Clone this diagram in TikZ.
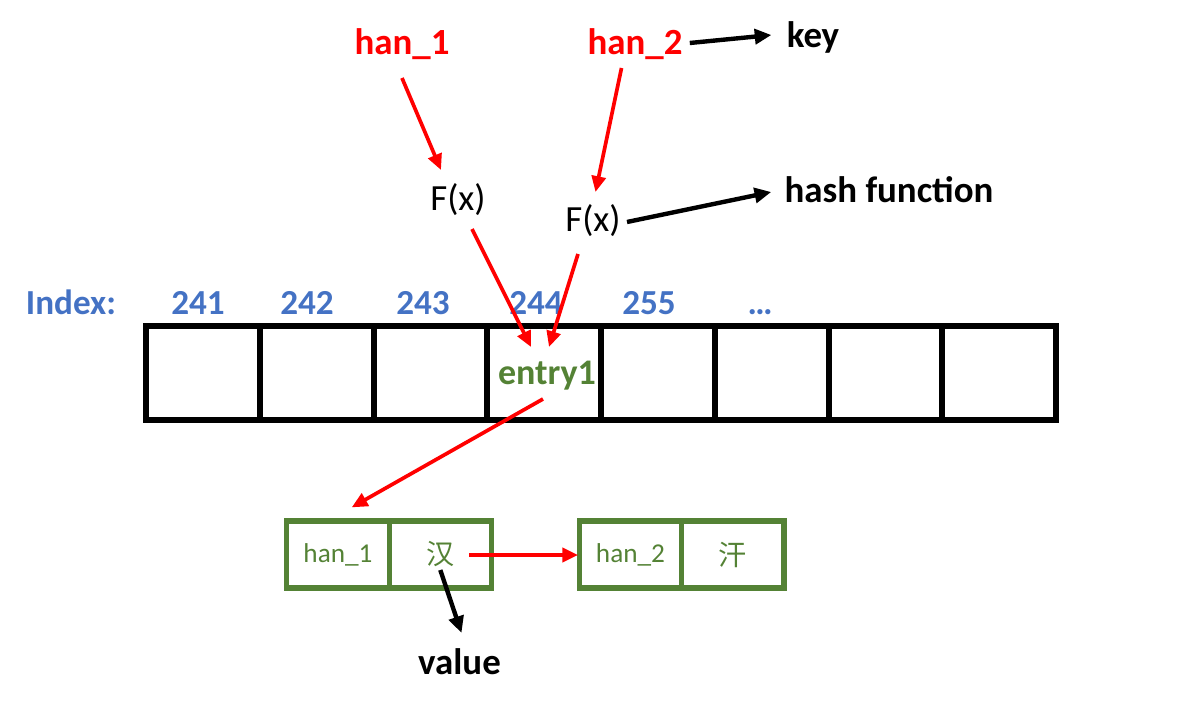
\documentclass[tikz,border=0pt]{standalone}
\usepackage{fontspec}
\setmainfont{Carlito}
\newfontfamily\cjkfont{Noto Sans CJK SC}
\usetikzlibrary{arrows.meta}
\definecolor{hanred}{RGB}{255,0,0}
\definecolor{idxblue}{RGB}{68,114,196}
\definecolor{entrygreen}{RGB}{84,130,53}

\begin{document}
\begin{tikzpicture}[x=0.02cm, y=-0.02cm,
	bigtext/.style={inner sep=0pt, anchor=base, font=\fontsize{21}{25}\selectfont\bfseries},
	fxtext/.style={inner sep=0pt, anchor=base, font=\fontsize{21}{25}\selectfont},
	idxtext/.style={inner sep=0pt, anchor=base, text=idxblue, font=\fontsize{20}{24}\selectfont\bfseries},
	cell/.style={draw=black, line width=3.4pt, minimum width=2.275cm, minimum height=1.88cm, inner sep=0pt},
	pair/.style={draw=entrygreen, line width=3pt, minimum width=2.046cm, minimum height=1.34cm, inner sep=0pt, text=entrygreen, font=\fontsize{15.5}{18}\selectfont},
	hanzi/.style={pair, font=\cjkfont\fontsize{16}{19}\selectfont},
	redarrow/.style={hanred, line width=2.1pt, -{Triangle[length=9pt, width=8pt]}},
	blackarrow/.style={black, line width=2.5pt, -{Triangle[length=9.5pt, width=8.5pt]}}]
	\useasboundingbox (0,0) rectangle (1200,709);
	% keys and hash functions
	\node[bigtext, text=hanred] (h1) at (402,55) {han\_1};
	\node[bigtext, text=hanred] (h2) at (635,55) {han\_2};
	\node[bigtext] (key) at (813,48) {key};
	\node[fxtext] (f1) at (458,211) {F(x)};
	\node[fxtext] (f2) at (593,232) {F(x)};
	\node[bigtext] (hash) at (889,203) {hash function};
	% index row
	\node[idxtext] (idx) at (71,315) {Index:};
	\foreach \lbl/\xx [count=\i] in {241/198, 242/307, 243/423, 244/536, 255/649, …/760}
		\node[idxtext] (l\i) at (\xx,315) {\lbl};
	% table
	\foreach \i in {1,...,8}
		\node[cell] (c\i) at (89.125+113.75*\i, 373) {};
	\node[inner sep=0pt, anchor=base, text=entrygreen, font=\fontsize{20.5}{24}\selectfont\bfseries] (entry) at (547,385) {entry1};
	% linked entries
	\node[pair] (k1) at (338,554.5) {han\_1};
	\node[hanzi] (v1) at (440.3,554.5) {汉};
	\node[pair] (k2) at (630.5,554.5) {han\_2};
	\node[hanzi] (v2) at (732.8,554.5) {汗};
	\node[bigtext] (value) at (459.5,674) {value};
	% arrows
	\draw[redarrow] ([shift={(0,23)}]h1.base) -- ([shift={(-17,-41)}]f1.base);
	\draw[redarrow] ([shift={(-13.5,13)}]h2.base) -- ([shift={(2.5,-40)}]f2.base);
	\draw[redarrow] ([shift={(14,18)}]f1.base) -- ([shift={(-16,-38)}]entry.base);
	\draw[redarrow] ([shift={(-15,22)}]f2.base) -- ([shift={(2,-38)}]entry.base);
	\draw[redarrow] ([shift={(-4,14)}]entry.base) -- ([shift={(13.7,-11)}]k1.north);
	\draw[redarrow] ([shift={(29,0.5)}]v1.center) -- ([shift={(1.4,0.5)}]k2.west);
	\draw[blackarrow] ([shift={(7,-12)}]h2.base east) -- ([shift={(-15,-13)}]key.base west);
	\draw[blackarrow] ([shift={(6,-10)}]f2.base east) -- ([shift={(-13,-11)}]hash.base west);
	\draw[blackarrow] ([shift={(0,15.5)}]v1.center) -- ([shift={(2,-41)}]value.base);
\end{tikzpicture}
\end{document}
